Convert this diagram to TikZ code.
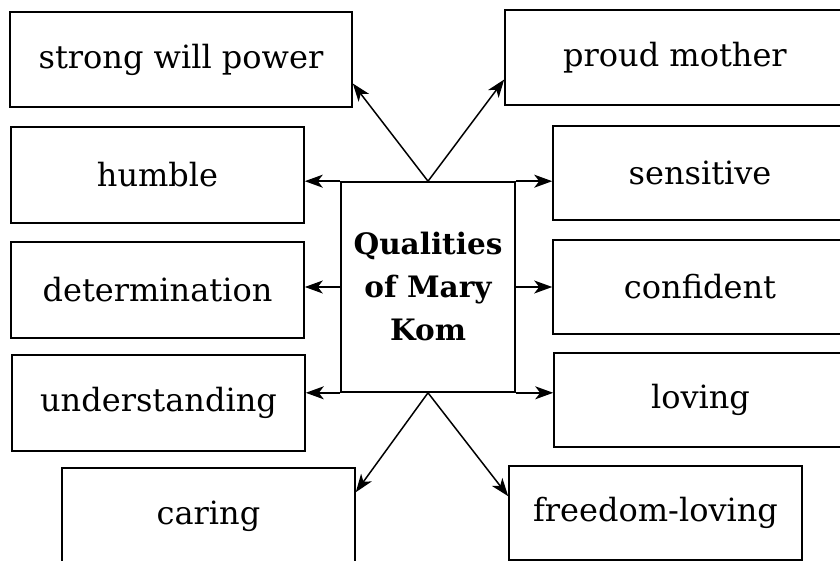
\documentclass[tikz,border=0pt]{standalone}
\usepackage{fontspec}
\setmainfont{DejaVu Serif}
\usetikzlibrary{arrows.meta,calc}
\begin{document}
\begin{tikzpicture}[x=1pt,y=-1pt,
  qbox/.style={draw,line width=1.6pt,rectangle,inner sep=0pt,
    font=\fontsize{32}{38}\selectfont},
  conn/.style={line width=1.5pt,-{Stealth[length=18pt,width=13pt,inset=5pt]}}]
\useasboundingbox (0,0) rectangle (840,561);
\clip (0,0) rectangle (840,561);
\fill[white] (0,0) rectangle (840,561);
% left column
\node[qbox,minimum width=342pt,minimum height=95pt] (swp) at (181,59.5) {strong will power};
\node[qbox,minimum width=293pt,minimum height=96pt] (hum) at (157.5,175) {humble};
\node[qbox,minimum width=293pt,minimum height=96pt] (det) at (157.5,290) {determination};
\node[qbox,minimum width=293pt,minimum height=96pt] (und) at (158.5,403) {understanding};
\node[qbox,minimum width=293pt,minimum height=96pt] (car) at (208.5,516) {caring};
% right column
\node[qbox,minimum width=340pt,minimum height=95pt] (pm) at (675,57.5) {proud mother};
\node[qbox,minimum width=294pt,minimum height=94pt] (sen) at (700,173) {sensitive};
\node[qbox,minimum width=294pt,minimum height=94pt] (con) at (700,287) {confident};
\node[qbox,minimum width=293pt,minimum height=94pt] (lov) at (700.5,400) {loving};
\node[qbox,minimum width=293pt,minimum height=94pt] (fl) at (655.5,513) {freedom-loving};
% centre
\node[draw,line width=1.6pt,inner sep=0pt,minimum width=174pt,minimum height=210pt,
  align=center,font=\fontsize{29.5}{43}\bfseries\selectfont] (c) at (428,287)
  {Qualities\\of Mary\\Kom};
% connectors
\draw[conn] (c.north) -- ([yshift=-24pt]swp.east);
\draw[conn] (c.north) -- ([yshift=-22pt]pm.west);
\draw[conn] (c.north west) -- (c.north west -| hum.east);
\draw[conn] (c.west) -- (c.west -| det.east);
\draw[conn] (c.south west) -- (c.south west -| und.east);
\draw[conn] (c.north east) -- (c.north east -| sen.west);
\draw[conn] (c.east) -- (c.east -| con.west);
\draw[conn] (c.south east) -- (c.south east -| lov.west);
\draw[conn] (c.south) -- ([yshift=-25pt]car.north east);
\draw[conn] (c.south) -- ([yshift=-31pt]fl.north west);
\end{tikzpicture}
\end{document}
